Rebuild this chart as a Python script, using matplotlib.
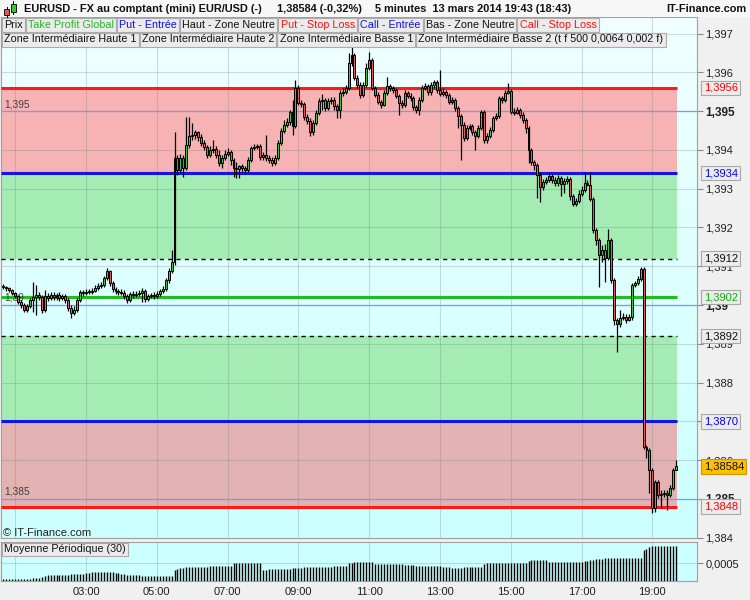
import numpy as np
import matplotlib
matplotlib.use("Agg")
import matplotlib.pyplot as plt
from matplotlib.patches import Rectangle
from matplotlib.transforms import blended_transform_factory

plt.rcParams['font.family'] = ['Liberation Sans', 'DejaVu Sans']

# ---------------- data ----------------
first_bar_minute = 40      # 00:40
bar_minutes = 5

open_ = [
    1.39049, 1.39047, 1.39044, 1.39039, 1.39031, 1.39023, 1.39008, 1.39000, 1.38987, 1.38998,
    1.39013, 1.39021, 1.39026, 1.39021, 1.38987, 1.39023, 1.39018, 1.39026, 1.39021, 1.39026,
    1.39018, 1.39023, 1.39013, 1.38992, 1.38979, 1.38987, 1.39013, 1.39034, 1.39031, 1.39034,
    1.39034, 1.39036, 1.39044, 1.39049, 1.39052, 1.39070, 1.39088, 1.39057, 1.39041, 1.39036,
    1.39034, 1.39031, 1.39023, 1.39013, 1.39028, 1.39026, 1.39028, 1.39031, 1.39036, 1.39016,
    1.39023, 1.39026, 1.39023, 1.39028, 1.39036, 1.39041, 1.39065, 1.39088, 1.39111, 1.39379,
    1.39348, 1.39379, 1.39354, 1.39413, 1.39436, 1.39439, 1.39446, 1.39434, 1.39418, 1.39408,
    1.39387, 1.39400, 1.39403, 1.39387, 1.39366, 1.39379, 1.39390, 1.39395, 1.39374, 1.39354,
    1.39351, 1.39359, 1.39354, 1.39348, 1.39374, 1.39405, 1.39408, 1.39410, 1.39382, 1.39387,
    1.39379, 1.39374, 1.39366, 1.39379, 1.39418, 1.39449, 1.39465, 1.39472, 1.39498, 1.39462,
    1.39560, 1.39521, 1.39519, 1.39485, 1.39475, 1.39446, 1.39470, 1.39495, 1.39526, 1.39529,
    1.39508, 1.39526, 1.39529, 1.39514, 1.39503, 1.39547, 1.39550, 1.39560, 1.39624, 1.39645,
    1.39586, 1.39568, 1.39542, 1.39568, 1.39612, 1.39632, 1.39560, 1.39542, 1.39524, 1.39516,
    1.39547, 1.39565, 1.39560, 1.39555, 1.39539, 1.39521, 1.39516, 1.39547, 1.39539, 1.39534,
    1.39511, 1.39503, 1.39529, 1.39560, 1.39565, 1.39550, 1.39568, 1.39575, 1.39555, 1.39544,
    1.39550, 1.39542, 1.39524, 1.39529, 1.39508, 1.39488, 1.39465, 1.39431, 1.39457, 1.39462,
    1.39446, 1.39436, 1.39457, 1.39498, 1.39426, 1.39436, 1.39452, 1.39483, 1.39488, 1.39534,
    1.39529, 1.39547, 1.39552, 1.39498, 1.39495, 1.39503, 1.39490, 1.39477, 1.39457, 1.39400,
    1.39369, 1.39361, 1.39336, 1.39305, 1.39317, 1.39323, 1.39333, 1.39323, 1.39315, 1.39328,
    1.39312, 1.39320, 1.39325, 1.39281, 1.39261, 1.39268, 1.39286, 1.39297, 1.39315, 1.39310,
    1.39274, 1.39194, 1.39168, 1.39129, 1.39142, 1.39121, 1.39168, 1.39065, 1.38961, 1.38951,
    1.38967, 1.38969, 1.38961, 1.38969, 1.39052, 1.39057, 1.39067, 1.39093, 1.38634, 1.38626,
    1.38574, 1.38476, 1.38543, 1.38510, 1.38512, 1.38515, 1.38510, 1.38528, 1.38574,
]

close = [
    1.39047, 1.39044, 1.39039, 1.39031, 1.39023, 1.39008, 1.39000, 1.38987, 1.38998, 1.39013,
    1.39021, 1.39026, 1.39021, 1.38987, 1.39023, 1.39018, 1.39026, 1.39021, 1.39026, 1.39018,
    1.39023, 1.39013, 1.38992, 1.38979, 1.38987, 1.39013, 1.39034, 1.39031, 1.39034, 1.39034,
    1.39036, 1.39044, 1.39049, 1.39052, 1.39070, 1.39088, 1.39057, 1.39041, 1.39036, 1.39034,
    1.39031, 1.39023, 1.39013, 1.39028, 1.39026, 1.39028, 1.39031, 1.39036, 1.39016, 1.39023,
    1.39026, 1.39023, 1.39028, 1.39036, 1.39041, 1.39065, 1.39088, 1.39111, 1.39379, 1.39348,
    1.39379, 1.39354, 1.39413, 1.39436, 1.39439, 1.39446, 1.39434, 1.39418, 1.39408, 1.39387,
    1.39400, 1.39403, 1.39387, 1.39366, 1.39379, 1.39390, 1.39395, 1.39374, 1.39354, 1.39351,
    1.39359, 1.39354, 1.39348, 1.39374, 1.39405, 1.39408, 1.39410, 1.39382, 1.39387, 1.39379,
    1.39374, 1.39366, 1.39379, 1.39418, 1.39449, 1.39465, 1.39472, 1.39498, 1.39462, 1.39560,
    1.39521, 1.39519, 1.39485, 1.39475, 1.39446, 1.39470, 1.39495, 1.39526, 1.39529, 1.39508,
    1.39526, 1.39529, 1.39514, 1.39503, 1.39547, 1.39550, 1.39560, 1.39624, 1.39645, 1.39586,
    1.39568, 1.39542, 1.39568, 1.39612, 1.39632, 1.39560, 1.39542, 1.39524, 1.39516, 1.39547,
    1.39565, 1.39560, 1.39555, 1.39539, 1.39521, 1.39516, 1.39547, 1.39539, 1.39534, 1.39511,
    1.39503, 1.39529, 1.39560, 1.39565, 1.39550, 1.39568, 1.39575, 1.39555, 1.39544, 1.39550,
    1.39542, 1.39524, 1.39529, 1.39508, 1.39488, 1.39465, 1.39431, 1.39457, 1.39462, 1.39446,
    1.39436, 1.39457, 1.39498, 1.39426, 1.39436, 1.39452, 1.39483, 1.39488, 1.39534, 1.39529,
    1.39547, 1.39552, 1.39498, 1.39495, 1.39503, 1.39490, 1.39477, 1.39457, 1.39400, 1.39369,
    1.39361, 1.39336, 1.39305, 1.39317, 1.39323, 1.39333, 1.39323, 1.39315, 1.39328, 1.39312,
    1.39320, 1.39325, 1.39281, 1.39261, 1.39268, 1.39286, 1.39297, 1.39315, 1.39310, 1.39274,
    1.39194, 1.39168, 1.39129, 1.39142, 1.39121, 1.39168, 1.39065, 1.38961, 1.38951, 1.38967,
    1.38969, 1.38961, 1.38969, 1.39052, 1.39057, 1.39067, 1.39093, 1.38634, 1.38626, 1.38574,
    1.38476, 1.38543, 1.38510, 1.38512, 1.38515, 1.38510, 1.38528, 1.38574, 1.38584,
]

high = [
    1.39054, 1.39049, 1.39047, 1.39041, 1.39034, 1.39026, 1.39013, 1.39005, 1.39003, 1.39018,
    1.39059, 1.39052, 1.39034, 1.39026, 1.39039, 1.39031, 1.39034, 1.39034, 1.39031, 1.39034,
    1.39028, 1.39028, 1.39018, 1.39000, 1.38998, 1.39018, 1.39039, 1.39039, 1.39041, 1.39041,
    1.39044, 1.39052, 1.39057, 1.39059, 1.39075, 1.39096, 1.39090, 1.39062, 1.39047, 1.39041,
    1.39041, 1.39039, 1.39028, 1.39034, 1.39036, 1.39036, 1.39039, 1.39044, 1.39041, 1.39028,
    1.39031, 1.39034, 1.39036, 1.39041, 1.39049, 1.39070, 1.39096, 1.39142, 1.39446, 1.39387,
    1.39390, 1.39387, 1.39485, 1.39485, 1.39470, 1.39452, 1.39449, 1.39441, 1.39426, 1.39413,
    1.39410, 1.39426, 1.39410, 1.39400, 1.39387, 1.39400, 1.39405, 1.39400, 1.39379, 1.39369,
    1.39361, 1.39364, 1.39359, 1.39382, 1.39410, 1.39415, 1.39415, 1.39415, 1.39395, 1.39439,
    1.39387, 1.39382, 1.39387, 1.39426, 1.39457, 1.39477, 1.39483, 1.39503, 1.39529, 1.39581,
    1.39568, 1.39529, 1.39524, 1.39493, 1.39483, 1.39477, 1.39503, 1.39534, 1.39544, 1.39534,
    1.39534, 1.39537, 1.39537, 1.39519, 1.39555, 1.39560, 1.39568, 1.39650, 1.39666, 1.39650,
    1.39594, 1.39575, 1.39575, 1.39624, 1.39653, 1.39637, 1.39565, 1.39550, 1.39529, 1.39555,
    1.39588, 1.39570, 1.39565, 1.39560, 1.39544, 1.39529, 1.39555, 1.39552, 1.39547, 1.39539,
    1.39516, 1.39537, 1.39568, 1.39573, 1.39570, 1.39575, 1.39581, 1.39581, 1.39606, 1.39560,
    1.39555, 1.39547, 1.39537, 1.39534, 1.39514, 1.39493, 1.39472, 1.39465, 1.39467, 1.39467,
    1.39452, 1.39465, 1.39503, 1.39503, 1.39444, 1.39459, 1.39488, 1.39495, 1.39539, 1.39539,
    1.39555, 1.39573, 1.39557, 1.39508, 1.39511, 1.39508, 1.39498, 1.39483, 1.39462, 1.39405,
    1.39374, 1.39366, 1.39343, 1.39325, 1.39330, 1.39343, 1.39338, 1.39330, 1.39336, 1.39333,
    1.39328, 1.39333, 1.39330, 1.39286, 1.39276, 1.39297, 1.39307, 1.39343, 1.39323, 1.39343,
    1.39279, 1.39199, 1.39173, 1.39155, 1.39157, 1.39196, 1.39173, 1.39070, 1.38967, 1.38987,
    1.38979, 1.38977, 1.38977, 1.39057, 1.39062, 1.39075, 1.39098, 1.39098, 1.38639, 1.38631,
    1.38580, 1.38549, 1.38549, 1.38523, 1.38523, 1.38523, 1.38536, 1.38580, 1.38600,
]

low = [
    1.39041, 1.39036, 1.39034, 1.39026, 1.39018, 1.39003, 1.38992, 1.38982, 1.38982, 1.38992,
    1.38982, 1.38974, 1.39013, 1.38979, 1.38982, 1.39010, 1.39013, 1.39013, 1.39013, 1.39010,
    1.39013, 1.39005, 1.38985, 1.38967, 1.38974, 1.38982, 1.39008, 1.39023, 1.39026, 1.39028,
    1.39028, 1.39034, 1.39039, 1.39044, 1.39047, 1.39065, 1.39049, 1.39034, 1.39028, 1.39026,
    1.39026, 1.39016, 1.39005, 1.39008, 1.39018, 1.39021, 1.39023, 1.39008, 1.39008, 1.39010,
    1.39018, 1.39016, 1.39018, 1.39023, 1.39031, 1.39036, 1.39057, 1.39083, 1.39103, 1.39336,
    1.39343, 1.39330, 1.39348, 1.39405, 1.39426, 1.39428, 1.39423, 1.39410, 1.39400, 1.39379,
    1.39382, 1.39392, 1.39379, 1.39359, 1.39354, 1.39374, 1.39385, 1.39361, 1.39330, 1.39328,
    1.39328, 1.39343, 1.39341, 1.39343, 1.39369, 1.39400, 1.39403, 1.39374, 1.39374, 1.39372,
    1.39366, 1.39359, 1.39361, 1.39374, 1.39413, 1.39444, 1.39459, 1.39465, 1.39439, 1.39457,
    1.39516, 1.39511, 1.39477, 1.39467, 1.39436, 1.39439, 1.39465, 1.39490, 1.39503, 1.39501,
    1.39503, 1.39519, 1.39503, 1.39483, 1.39483, 1.39539, 1.39544, 1.39555, 1.39617, 1.39581,
    1.39560, 1.39534, 1.39537, 1.39563, 1.39606, 1.39555, 1.39537, 1.39519, 1.39508, 1.39514,
    1.39542, 1.39552, 1.39547, 1.39534, 1.39490, 1.39508, 1.39511, 1.39534, 1.39526, 1.39503,
    1.39495, 1.39490, 1.39524, 1.39555, 1.39542, 1.39542, 1.39560, 1.39547, 1.39539, 1.39539,
    1.39534, 1.39519, 1.39519, 1.39501, 1.39457, 1.39374, 1.39423, 1.39426, 1.39452, 1.39439,
    1.39400, 1.39431, 1.39452, 1.39418, 1.39418, 1.39431, 1.39446, 1.39477, 1.39483, 1.39521,
    1.39524, 1.39544, 1.39493, 1.39490, 1.39493, 1.39483, 1.39470, 1.39444, 1.39366, 1.39361,
    1.39348, 1.39276, 1.39266, 1.39297, 1.39312, 1.39317, 1.39315, 1.39307, 1.39307, 1.39281,
    1.39289, 1.39312, 1.39271, 1.39256, 1.39256, 1.39263, 1.39281, 1.39292, 1.39307, 1.39268,
    1.39186, 1.39155, 1.39047, 1.39111, 1.39059, 1.39116, 1.39057, 1.38949, 1.38879, 1.38943,
    1.38961, 1.38954, 1.38959, 1.38961, 1.39047, 1.39052, 1.39062, 1.38629, 1.38605, 1.38515,
    1.38463, 1.38466, 1.38502, 1.38476, 1.38505, 1.38471, 1.38505, 1.38523, 1.38574,
]

moyenne_periodique = [
    0.00030, 0.00030, 0.00030, 0.00030, 0.00030, 0.00030, 0.00030, 0.00030, 0.00031, 0.00031,
    0.00032, 0.00032, 0.00032, 0.00033, 0.00034, 0.00035, 0.00035, 0.00035, 0.00035, 0.00035,
    0.00036, 0.00036, 0.00036, 0.00037, 0.00037, 0.00037, 0.00037, 0.00037, 0.00038, 0.00038,
    0.00039, 0.00039, 0.00039, 0.00039, 0.00039, 0.00039, 0.00039, 0.00039, 0.00038, 0.00038,
    0.00037, 0.00037, 0.00036, 0.00036, 0.00035, 0.00035, 0.00035, 0.00034, 0.00034, 0.00034,
    0.00034, 0.00034, 0.00034, 0.00034, 0.00034, 0.00034, 0.00034, 0.00034, 0.00042, 0.00043,
    0.00044, 0.00044, 0.00045, 0.00046, 0.00046, 0.00046, 0.00046, 0.00046, 0.00046, 0.00046,
    0.00047, 0.00047, 0.00047, 0.00047, 0.00047, 0.00047, 0.00047, 0.00047, 0.00050, 0.00051,
    0.00051, 0.00051, 0.00051, 0.00051, 0.00051, 0.00051, 0.00051, 0.00051, 0.00042, 0.00042,
    0.00043, 0.00043, 0.00043, 0.00043, 0.00043, 0.00043, 0.00043, 0.00043, 0.00044, 0.00044,
    0.00044, 0.00044, 0.00045, 0.00045, 0.00045, 0.00045, 0.00045, 0.00045, 0.00045, 0.00045,
    0.00045, 0.00045, 0.00047, 0.00047, 0.00047, 0.00047, 0.00047, 0.00051, 0.00051, 0.00052,
    0.00052, 0.00052, 0.00052, 0.00052, 0.00052, 0.00052, 0.00049, 0.00049, 0.00049, 0.00049,
    0.00049, 0.00049, 0.00049, 0.00049, 0.00049, 0.00049, 0.00048, 0.00048, 0.00048, 0.00048,
    0.00047, 0.00047, 0.00047, 0.00047, 0.00047, 0.00047, 0.00047, 0.00047, 0.00047, 0.00045,
    0.00045, 0.00045, 0.00044, 0.00044, 0.00044, 0.00044, 0.00046, 0.00046, 0.00046, 0.00046,
    0.00046, 0.00046, 0.00046, 0.00049, 0.00050, 0.00050, 0.00050, 0.00050, 0.00050, 0.00050,
    0.00050, 0.00050, 0.00050, 0.00050, 0.00050, 0.00050, 0.00050, 0.00050, 0.00053, 0.00054,
    0.00054, 0.00054, 0.00054, 0.00054, 0.00054, 0.00052, 0.00052, 0.00052, 0.00052, 0.00052,
    0.00052, 0.00052, 0.00052, 0.00052, 0.00052, 0.00052, 0.00052, 0.00053, 0.00053, 0.00054,
    0.00054, 0.00055, 0.00055, 0.00055, 0.00056, 0.00057, 0.00057, 0.00057, 0.00057, 0.00057,
    0.00057, 0.00057, 0.00057, 0.00057, 0.00057, 0.00057, 0.00057, 0.00066, 0.00068, 0.00070,
    0.00072, 0.00072, 0.00072, 0.00072, 0.00072, 0.00072, 0.00072, 0.00072, 0.00072,
]

# price levels (value, label on right, colour, style)
level_values = [1.3956, 1.3934, 1.3912, 1.3902, 1.3892, 1.3870, 1.3848]
level_labels = ['1,3956', '1,3934', '1,3912', '1,3902', '1,3892', '1,3870', '1,3848']
level_colors = ['#ff1a1a', '#1414e6', 'black', '#22bb22', 'black', '#1414e6', '#ff1a1a']
level_text_colors = ['#ff0000', '#0000ff', '#111111', '#10b010', '#111111', '#0000ff', '#ff0000']
level_dashed = [False, False, True, False, True, False, False]

zone_bounds = [(1.3934, 1.3956), (1.3912, 1.3934), (1.3870, 1.3892), (1.3848, 1.3870)]
zone_colors = ['#f7b3b3', '#a4ecb4', '#a4ecb4', '#e3b2b2']

round_levels = [1.395, 1.390, 1.385]
round_labels = ['1,395', '1,39', '1,385']

last_price = 1.38584
last_price_label = '1,38584'

ytick_values = [1.384, 1.385, 1.386, 1.387, 1.388, 1.389, 1.390, 1.391, 1.392,
                1.393, 1.394, 1.395, 1.396, 1.397]
ytick_labels = ['1,384', '1,385', '1,386', '1,387', '1,388', '1,389', '1,39', '1,391',
                '1,392', '1,393', '1,394', '1,395', '1,396', '1,397']
bold_ticks = ['1,385', '1,39', '1,395']

xtick_minutes = [60, 180, 300, 420, 540, 660, 780, 900, 1020, 1140]
xtick_labels = ['', '03:00', '05:00', '07:00', '09:00', '11:00', '13:00', '15:00', '17:00', '19:00']

legend_row1 = [('Prix', '#111111'), ('Take Profit Global', '#22bb22'), ('Put - Entrée', '#1010ee'),
               ('Haut - Zone Neutre', '#111111'), ('Put - Stop Loss', '#ff1010'),
               ('Call - Entrée', '#1010ee'), ('Bas - Zone Neutre', '#111111'),
               ('Call - Stop Loss', '#ff1010')]
legend_row2 = [('Zone Intermédiaire Haute 1', '#111111'), ('Zone Intermédiaire Haute 2', '#111111'),
               ('Zone Intermédiaire Basse 1', '#111111'),
               ('Zone Intermédiaire Basse 2 (t f 500 0,0064 0,002 f)', '#111111')]

# ---------------- figure ----------------
W, H = 750, 600
fig = plt.figure(figsize=(7.5, 6), dpi=100)
fig.patch.set_facecolor('#f0f0f0')


def frect(x0, y0, x1, y1):
    return [x0 / W, 1 - y1 / H, (x1 - x0) / W, (y1 - y0) / H]


ax = fig.add_axes(frect(1, 17, 697, 538))
ax2 = fig.add_axes(frect(1, 542, 697, 581))

n = len(close)
t = first_bar_minute + bar_minutes * np.arange(n)
X0, X1 = 35.9, 1215.6
Y0, Y1 = 1.38399, 1.39743
zone_end = t[-1] + bar_minutes / 2

# background gradient
grad = np.linspace(0, 1, 256).reshape(-1, 1)
top_c = np.array([240, 255, 255]) / 255
bot_c = np.array([204, 255, 255]) / 255
img = top_c + (bot_c - top_c) * grad[..., None]
ax.imshow(img, extent=[X0, X1, Y0, Y1], origin='upper', aspect='auto', zorder=0)

for (lo, hi), col in zip(zone_bounds, zone_colors):
    ax.fill_between([X0, zone_end], lo, hi, color=col, lw=0, zorder=1)

for v in round_levels:
    ax.axhline(v, color='#6f9cff', lw=0.9, zorder=2.5)

for v, col, dashed in zip(level_values, level_colors, level_dashed):
    if dashed:
        ax.hlines(v, X0, zone_end, color=col, lw=1.0, linestyles=(0, (3, 3)), zorder=3)
    else:
        ax.hlines(v, X0, zone_end, color=col, lw=2.2, zorder=3)

# candles
o = np.array(open_)
c = np.array(close)
hi_ = np.array(high)
lo_ = np.array(low)
up = c >= o
ax.vlines(t, lo_, hi_, color='black', lw=0.9, zorder=4)
body = np.where(np.abs(c - o) < 5e-6, 1.5e-5, c - o)
ax.bar(t, body, bottom=o, width=3.3, color=np.where(up, '#33cc33', '#e05a5a'),
       edgecolor='black', linewidth=0.7, zorder=5)

ax.set_xlim(X0, X1)
ax.set_ylim(Y0, Y1)
ax.set_xticks(xtick_minutes)
ax.yaxis.tick_right()
ax.set_yticks(ytick_values)
ax.set_yticklabels(ytick_labels)
ax.tick_params(axis='x', length=0, labelbottom=False)
ax.tick_params(axis='y', length=4, width=0.8, color='#888888', pad=2, labelsize=8,
               labelcolor='#202020')
for lbl in ax.get_yticklabels():
    if lbl.get_text() in bold_ticks:
        lbl.set_fontweight('bold')
        lbl.set_fontsize(8.5)
ax.set_axisbelow('line')
ax.grid(True, color='#6f8080', alpha=0.28, lw=0.8)
for sp in ax.spines.values():
    sp.set_color('#a0a0a0')
    sp.set_linewidth(0.8)

tr = blended_transform_factory(ax.transAxes, ax.transData)
for v, s, col in zip(level_values, level_labels, level_text_colors):
    ax.text(1.0095, v, s, transform=tr, color=col, fontsize=8, va='center', ha='left',
            clip_on=False, zorder=7,
            bbox=dict(boxstyle='square,pad=0.2', fc='#ececec', ec='#a8a8a8', lw=0.8))
ax.text(1.0095, last_price, last_price_label, transform=tr, color='#111111', fontsize=8,
        va='center', ha='left', clip_on=False, zorder=8,
        bbox=dict(boxstyle='square,pad=0.2', fc='#ffc000', ec='#c89a00', lw=0.8))

for v, s in zip(round_levels, round_labels):
    ax.annotate(s, xy=(0.004, v), xycoords=tr, xytext=(0, 1.5), textcoords='offset points',
                fontsize=7.3, color='#404040', va='bottom', ha='left', zorder=3.5)

# lower panel
ax2.set_facecolor('#ccffff')
mp_bottom = 0.00028
ax2.vlines(t, mp_bottom, moyenne_periodique, color='black', lw=1.0, zorder=3)
ax2.set_xlim(X0, X1)
ax2.set_ylim(mp_bottom, 0.000765)
ax2.set_xticks(xtick_minutes)
ax2.set_xticklabels(xtick_labels)
ax2.tick_params(axis='x', length=0, pad=4, labelsize=8, labelcolor='#202020')
ax2.yaxis.tick_right()
ax2.set_yticks([0.0005])
ax2.set_yticklabels(['0,0005'])
ax2.tick_params(axis='y', length=4, width=0.8, color='#888888', pad=2, labelsize=8,
                labelcolor='#202020')
ax2.set_axisbelow(True)
ax2.grid(True, color='#6f8080', alpha=0.28, lw=0.8)
for sp in ax2.spines.values():
    sp.set_color('#a0a0a0')
    sp.set_linewidth(0.8)

# ---------------- header & legend boxes ----------------
fig.add_artist(Rectangle((0, 1 - 17 / H), 1, 17 / H, transform=fig.transFigure,
                         fc='#f7f7f7', ec='none', zorder=9))
# icon
for (x0, y0, w, h, col) in [(4, 9, 5, 6, '#e05a5a'), (11, 4, 5, 8, '#33cc33')]:
    fig.add_artist(Rectangle((x0 / W, 1 - (y0 + h) / H), w / W, h / H, transform=fig.transFigure,
                             fc=col, ec='black', lw=0.6, zorder=10))
fig.add_artist(plt.Line2D([6.5 / W, 6.5 / W], [1 - 17 / H, 1 - 7 / H], transform=fig.transFigure,
                          color='black', lw=0.7, zorder=9.5))
fig.add_artist(plt.Line2D([13.5 / W, 13.5 / W], [1 - 14 / H, 1 - 1 / H], transform=fig.transFigure,
                          color='black', lw=0.7, zorder=9.5))

hy = 1 - 8.5 / H
fig.text(24 / W, hy, 'EURUSD - FX au comptant (mini) EUR/USD (-)', fontsize=7.9,
         fontweight='bold', va='center', ha='left', color='#111111', zorder=11)
fig.text(277 / W, hy, '1,38584 (-0,32%)', fontsize=7.9, fontweight='bold', va='center',
         ha='left', color='#111111', zorder=11)
fig.text(375 / W, hy, '5 minutes  13 mars 2014 19:43 (18:43)', fontsize=7.9,
         fontweight='bold', va='center', ha='left', color='#111111', zorder=11)
fig.text(746 / W, hy, 'IT-Finance.com', fontsize=7.9, fontweight='bold', va='center',
         ha='right', color='#111111', zorder=11)

renderer = fig.canvas.get_renderer()


def box_row(items, x, y0, y1, fs=7.75):
    for text, color in items:
        txt = fig.text((x + 2.2) / W, 1 - (y0 + y1) / 2 / H, text, color=color, fontsize=fs,
                       va='center', ha='left', zorder=11)
        wpx = txt.get_window_extent(renderer).width
        fig.add_artist(Rectangle((x / W, 1 - y1 / H), (wpx + 4.3) / W, (y1 - y0) / H,
                                 transform=fig.transFigure, fc='#ebebeb', ec='#ababab',
                                 lw=0.8, zorder=10))
        x += wpx + 5.3


box_row(legend_row1, 2, 17.5, 31.5)
box_row(legend_row2, 2, 32.5, 46.5)
box_row([('Moyenne Périodique (30)', '#111111')], 2, 543, 556)

fig.text(3 / W, 1 - 533 / H, '© IT-Finance.com', fontsize=8, va='center', ha='left',
         color='#222222', zorder=11)

fig.savefig('out.png', dpi=100, facecolor=fig.get_facecolor())
